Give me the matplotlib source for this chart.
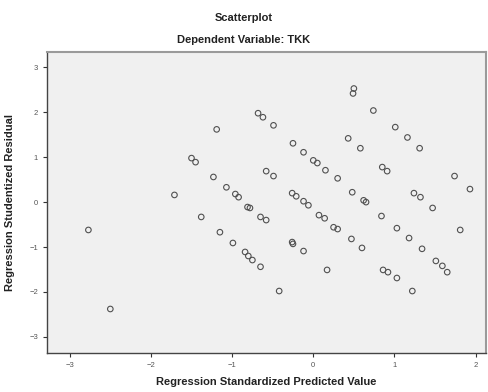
import matplotlib.pyplot as plt
import numpy as np

# Regression Standardized Predicted Value
pred = [-2.77, -2.50, -1.71, -1.50, -1.45, -1.19, -1.23, -1.07, -0.96, -0.92,
        -0.81, -0.78, -0.65, -0.58, -1.38, -1.15, -0.99, -0.84, -0.80, -0.75,
        -0.65, -0.42, -0.68, -0.62, -0.58, -0.49, -0.49, -0.25, -0.12, 0.00,
        0.05, 0.15, 0.30, 0.48, -0.26, -0.21, -0.12, -0.06, 0.07, 0.14,
        0.25, 0.30, -0.26, -0.25, -0.12, 0.17, 0.50, 0.49, 0.74, 0.43,
        0.58, 0.62, 0.65, 0.84, 0.47, 0.60, 0.86, 0.92, 1.03, 1.22,
        1.01, 1.16, 1.31, 0.85, 0.91, 1.24, 1.32, 1.47, 1.03, 1.18,
        1.34, 1.51, 1.59, 1.65, 1.81, 1.74, 1.93]

# Regression Studentized Residual
resid = [-0.62, -2.38, 0.16, 0.98, 0.89, 1.62, 0.56, 0.33, 0.18, 0.11,
         -0.11, -0.13, -0.33, -0.40, -0.33, -0.67, -0.91, -1.11, -1.20, -1.29,
         -1.44, -1.98, 1.98, 1.89, 0.69, 0.58, 1.71, 1.31, 1.11, 0.93,
         0.87, 0.71, 0.53, 0.22, 0.20, 0.13, 0.02, -0.07, -0.29, -0.36,
         -0.56, -0.60, -0.89, -0.93, -1.09, -1.51, 2.53, 2.42, 2.04, 1.42,
         1.20, 0.04, 0.00, -0.31, -0.82, -1.02, -1.51, -1.56, -1.69, -1.98,
         1.67, 1.44, 1.20, 0.78, 0.69, 0.20, 0.11, -0.13, -0.58, -0.80,
         -1.04, -1.31, -1.42, -1.56, -0.62, 0.58, 0.29]

xticks = [-3, -2, -1, 0, 1, 2]
yticks = [-3, -2, -1, 0, 1, 2, 3]

plt.rcParams['font.family'] = ['Liberation Sans', 'DejaVu Sans']

fig = plt.figure(figsize=(4.88, 3.92), dpi=100)
ax = fig.add_axes([0.0963, 0.0995, 0.9, 0.7675])
ax.set_facecolor('#f0f0f0')

ax.scatter(pred, resid, s=16, facecolors='none', edgecolors='#505050',
           linewidths=0.8, zorder=3)

ax.set_xlim(-3.28, 2.13)
ax.set_ylim(-3.36, 3.34)
ax.set_xticks(xticks)
ax.set_yticks(yticks)
ax.tick_params(labelsize=5.5, length=3, width=0.8, colors='#333333',
               labelcolor='#555555')

for side in ['left', 'bottom']:
    ax.spines[side].set_color('#444444')
    ax.spines[side].set_linewidth(1.0)
for side in ['top', 'right']:
    ax.spines[side].set_color('#9a9a9a')
    ax.spines[side].set_linewidth(1.5)

ax.set_xlabel('Regression Standardized Predicted Value', fontsize=8,
              fontweight='bold', color='#222222', labelpad=6)
ax.set_ylabel('Regression Studentized Residual', fontsize=8,
              fontweight='bold', color='#222222', labelpad=10)

fig.text(0.5, 0.955, 'Scatterplot', ha='center', va='center', fontsize=8,
         fontweight='bold', color='#222222')
fig.text(0.5, 0.898, 'Dependent Variable: TKK', ha='center', va='center',
         fontsize=8, fontweight='bold', color='#222222')

fig.savefig('out.png', dpi=100)
